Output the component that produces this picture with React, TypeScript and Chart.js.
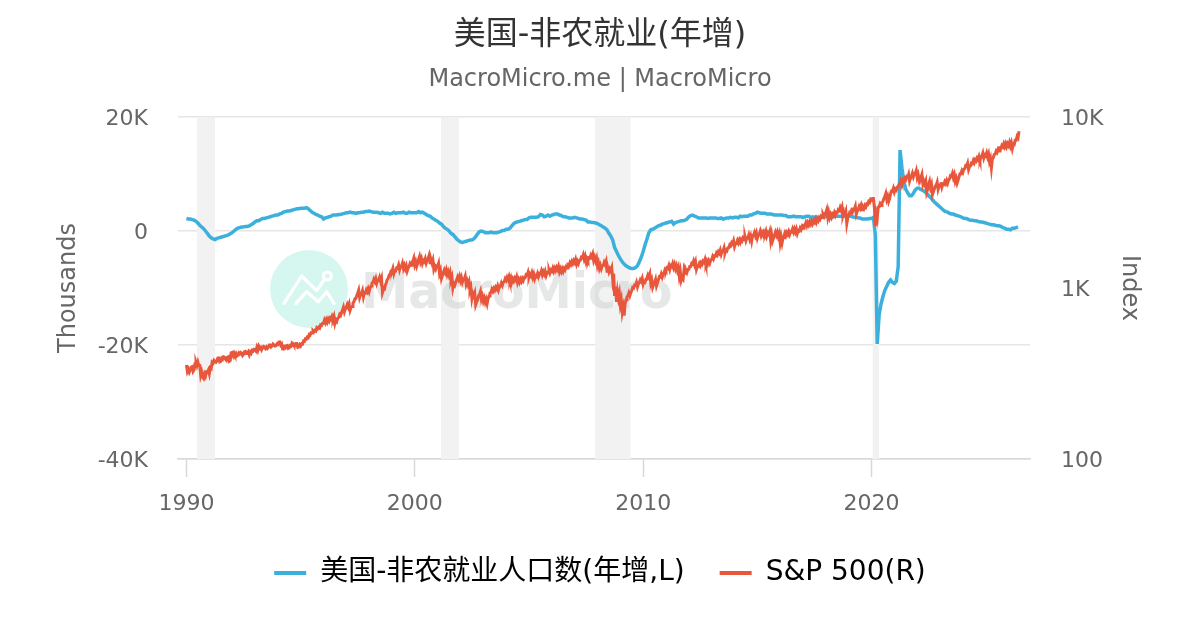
import React, { useEffect, useRef } from "react";
import { Chart, registerables } from "chart.js";

Chart.register(...registerables);

const FONT = '"DejaVu Sans", "Noto Sans CJK SC", sans-serif';
const startYear = 1990;

// US nonfarm payrolls, year-on-year change, thousands (shown in K), monthly from Jan 1990
const payrollsYoY: number[] = [
  2.2,2.1,2.1,2.0,1.9,1.7,1.4,1.0,0.7,0.4,0.0,-0.4,
  -0.9,-1.2,-1.4,-1.5,-1.3,-1.2,-1.1,-1.0,-0.9,-0.8,-0.7,-0.5,
  -0.3,0,0.3,0.5,0.6,0.7,0.7,0.8,0.8,0.9,1.1,1.3,
  1.6,1.8,1.8,2.0,2.2,2.2,2.3,2.4,2.5,2.6,2.7,2.8,
  2.8,3.0,3.1,3.3,3.4,3.5,3.5,3.6,3.7,3.8,3.9,3.9,
  4.0,4.0,4.0,4.1,3.9,3.6,3.3,3.1,2.9,2.8,2.6,2.5,
  2.1,2.3,2.4,2.5,2.6,2.8,2.8,2.8,2.9,2.9,3.0,3.1,
  3.2,3.2,3.3,3.2,3.2,3.1,3.2,3.2,3.3,3.3,3.4,3.4,
  3.5,3.4,3.3,3.3,3.3,3.2,3.1,3.3,3.1,3.1,3.1,3.0,
  3.1,3.3,3.1,3.2,3.2,3.2,3.3,3.1,3.1,3.3,3.2,3.2,
  3.2,3.2,3.4,3.2,3.3,3.1,2.9,2.7,2.6,2.3,2.1,1.9,
  1.7,1.4,1.2,0.8,0.5,0.3,0,-0.4,-0.6,-1.0,-1.4,-1.7,
  -1.9,-2.0,-1.9,-1.8,-1.7,-1.6,-1.6,-1.4,-1.0,-0.5,-0.1,0,
  -0.1,-0.3,-0.3,-0.3,-0.2,-0.3,-0.3,-0.3,-0.2,-0.1,0.1,0.1,
  0.3,0.3,0.5,0.9,1.3,1.5,1.6,1.7,1.8,1.9,2.0,2.0,
  2.3,2.4,2.4,2.4,2.4,2.5,2.9,2.8,2.5,2.6,2.8,2.6,
  2.8,2.9,3.0,3.0,2.8,2.7,2.5,2.5,2.4,2.3,2.3,2.3,
  2.4,2.3,2.2,2.1,2.1,2.0,1.9,1.6,1.6,1.5,1.5,1.4,
  1.3,1.1,0.9,0.7,0.5,0.2,-0.4,-0.9,-1.6,-2.9,-3.6,-4.3,
  -4.9,-5.4,-5.8,-6.1,-6.3,-6.5,-6.6,-6.6,-6.4,-6.1,-5.4,-4.6,
  -3.6,-2.4,-1.4,-0.3,0.2,0.3,0.5,0.7,0.9,1.0,1.2,1.3,
  1.4,1.5,1.6,1.7,1.2,1.5,1.6,1.7,1.8,1.8,1.9,2.1,
  2.5,2.7,2.8,2.6,2.5,2.3,2.3,2.3,2.3,2.3,2.2,2.3,
  2.3,2.3,2.3,2.2,2.2,2.3,2.1,2.2,2.3,2.3,2.4,2.3,
  2.4,2.4,2.3,2.6,2.5,2.6,2.6,2.6,2.8,2.8,3.0,3.1,
  3.3,3.2,3.1,3.1,3.1,3.0,3.0,3.0,2.9,2.8,2.8,2.8,
  2.8,2.8,2.7,2.7,2.5,2.5,2.5,2.6,2.5,2.5,2.5,2.5,
  2.4,2.5,2.6,2.6,2.4,2.5,2.4,2.5,2.3,2.4,2.4,2.5,
  2.5,2.6,2.6,2.5,2.5,2.6,2.6,2.6,2.6,2.6,2.6,2.6,
  2.7,2.6,2.5,2.4,2.4,2.3,2.3,2.1,2.1,2.1,2.1,2.2,
  2.2,2.4,-0.7,-19.8,-14.7,-12.8,-11.5,-10.4,-9.7,-9.0,-8.6,-9.0,
  -9.2,-8.8,-6.3,14.2,11.0,8.7,7.3,6.7,6.2,6.2,6.6,7.2,
  7.5,7.5,7.3,7.1,6.9,6.6,6.2,5.9,5.5,5.1,4.8,4.5,
  4.2,3.9,3.6,3.4,3.3,3.1,3.0,3.0,2.8,2.7,2.6,2.5,
  2.3,2.2,2.2,2.0,1.9,1.9,1.8,1.8,1.7,1.6,1.6,1.5,
  1.4,1.3,1.2,1.1,1.1,1.0,0.9,0.9,0.8,0.6,0.5,0.3,
  0.3,0.2,0.5,0.5,0.6,0.7,
];

// S&P 500 index, two readings per month (the swing of the daily line), from Jan 1990
const sp500: number[] = [
  355,325,335,322,332,345,347,325,332,360,367,352,369,352,352,308,322,301,296,314,305,323,322,331,
  315,342,338,368,364,378,378,368,375,390,390,370,372,388,383,396,394,384,378,393,396,373,376,418,
  420,405,417,405,414,400,404,417,411,420,416,403,410,424,426,413,414,423,407,422,415,432,428,438,
  436,428,450,433,456,443,449,435,447,455,452,443,452,443,449,464,464,452,458,470,470,458,460,471,
  468,482,483,464,471,440,439,454,448,459,461,443,446,460,457,477,473,462,461,473,473,450,453,466,
  458,472,470,489,487,504,502,516,512,534,530,547,545,563,555,565,560,586,579,590,583,608,604,622,
  623,649,627,653,632,658,641,667,656,682,657,683,622,652,638,664,673,701,691,719,742,772,725,755,
  770,802,774,806,742,772,780,817,831,865,867,903,935,973,881,917,928,966,888,940,936,974,950,990,
  950,1000,1028,1070,1079,1123,1089,1133,1068,1112,1110,1156,1098,1142,938,976,980,1037,1070,1120,1140,1186,1204,1254,
  1253,1305,1213,1263,1260,1312,1308,1362,1275,1327,1345,1399,1301,1355,1294,1346,1256,1308,1335,1389,1360,1416,1440,1498,
  1366,1422,1339,1393,1468,1528,1423,1481,1392,1448,1425,1483,1401,1459,1487,1547,1407,1465,1400,1458,1288,1340,1294,1346,
  1339,1393,1214,1264,1137,1183,1224,1274,1230,1280,1200,1248,1187,1235,1110,1156,1000,1061,1038,1080,1116,1162,1125,1171,
  1107,1153,1084,1128,1124,1170,1054,1098,1046,1088,969,1009,870,929,898,934,799,831,850,903,917,955,861,897,
  838,872,824,858,810,865,898,934,944,982,955,993,970,1010,988,1028,975,1015,1029,1071,1037,1079,1089,1133,
  1108,1154,1121,1167,1103,1149,1085,1129,1098,1142,1117,1163,1079,1123,1082,1126,1092,1136,1107,1153,1150,1196,1187,1235,
  1157,1205,1179,1227,1156,1204,1133,1179,1167,1215,1167,1215,1209,1259,1196,1244,1203,1253,1183,1231,1224,1274,1223,1273,
  1254,1306,1254,1306,1268,1320,1284,1336,1245,1295,1245,1295,1250,1302,1277,1329,1308,1362,1349,1405,1372,1428,1390,1446,
  1409,1467,1378,1434,1392,1448,1452,1512,1499,1561,1473,1533,1426,1484,1444,1502,1495,1557,1518,1580,1451,1511,1439,1497,
  1350,1406,1303,1357,1296,1348,1357,1413,1372,1428,1254,1306,1242,1292,1256,1308,1120,1215,900,1020,830,950,870,930,
  800,850,720,770,690,813,855,889,901,937,901,937,967,1007,1000,1040,1036,1078,1015,1057,1073,1117,1093,1137,
  1052,1094,1082,1126,1146,1192,1162,1210,1067,1111,1010,1050,1079,1123,1028,1070,1118,1164,1159,1207,1156,1204,1232,1282,
  1260,1312,1300,1354,1285,1352,1336,1390,1318,1372,1294,1346,1266,1318,1170,1250,1108,1154,1130,1278,1221,1271,1232,1282,
  1286,1338,1338,1392,1380,1436,1369,1425,1284,1336,1335,1389,1351,1407,1378,1434,1411,1469,1384,1440,1388,1444,1397,1455,
  1468,1528,1484,1544,1538,1600,1565,1629,1597,1663,1574,1638,1651,1719,1599,1665,1647,1715,1721,1791,1769,1841,1811,1885,
  1746,1818,1822,1896,1835,1909,1845,1921,1885,1961,1921,1999,1891,1969,1963,2043,1933,2011,1880,2030,2026,2108,2017,2099,
  1954,2034,2062,2146,2026,2108,2043,2127,2065,2149,2022,2104,2061,2145,1900,2050,1882,1958,2037,2121,2038,2122,2002,2084,
  1840,1980,1840,1971,2018,2100,2024,2106,2054,2138,2056,2140,2130,2216,2127,2213,2125,2211,2083,2169,2154,2242,2193,2283,
  2232,2324,2316,2410,2315,2409,2336,2432,2363,2459,2375,2471,2421,2519,2422,2520,2469,2569,2523,2627,2594,2700,2620,2726,
  2767,2879,2600,2767,2587,2693,2595,2701,2651,2759,2664,2772,2760,2872,2843,2959,2855,2971,2650,2765,2705,2815,2380,2556,
  2650,2758,2728,2840,2777,2891,2886,3004,2697,2807,2882,3000,2920,3040,2867,2985,2916,3036,2976,3098,3077,3203,3165,3295,
  3260,3340,3340,2950,2300,2700,2550,2970,2983,3105,3038,3162,3206,3336,3430,3570,3296,3430,3204,3334,3548,3694,3681,3831,
  3640,3788,3735,3887,3893,4051,4097,4265,4120,4288,4211,4383,4307,4483,4432,4612,4221,4393,4513,4697,4476,4658,4671,4861,
  4425,4605,4286,4460,4439,4621,4048,4214,4049,4215,3626,3774,4047,4213,3876,4034,3513,3657,3794,3948,3998,4162,3762,3916,
  3994,4158,3891,4049,4027,4191,4086,4252,4095,4263,4361,4539,4496,4680,4417,4597,4202,4374,4109,4277,4476,4658,4674,4864,
  4748,4942,4994,5198,5149,5359,4934,5136,5171,5383,5351,5569,5412,5632,5535,5761,5647,5877,5591,5819,5911,6153,5763,5999,
  5919,6161,5835,6073,5499,5723,5050,5680,5793,6029,6080,6328,6212,6466,6331,6589,6554,6822,6703,6977,6712,6986,6708,6982,
  6800,7100,6750,7050,6550,6950,6900,7300,7300,7700,7550,8250,
];

// Recession bands, decimal years
const recessionStarts = [1990.46, 2001.15, 2007.9, 2020.05];
const recessionEnds = [1991.25, 2001.93, 2009.45, 2020.33];

const xTicks = [1990, 2000, 2010, 2020];
const leftTicks = [-40, -20, 0, 20];
const rightTicks = [100, 1000, 10000];
const rightTickLabels: Record<number, string> = { 100: "100", 1000: "1K", 10000: "10K" };

const seriesNames = ["美国-非农就业人口数(年增,L)", "S&P 500(R)"];
const seriesColors = ["#3cb0dc", "#e8563c"];

const toPoints = (values: number[], perYear: number) =>
  values.map((y, i) => ({ x: startYear + i / perYear, y }));

const backdrop = {
  id: "backdrop",
  beforeDatasetsDraw(chart: any) {
    const { ctx, chartArea, scales } = chart;
    ctx.save();
    ctx.fillStyle = "#f2f2f2";
    recessionStarts.forEach((s, i) => {
      const x0 = scales.x.getPixelForValue(s);
      const x1 = scales.x.getPixelForValue(recessionEnds[i]);
      ctx.fillRect(x0, chartArea.top, x1 - x0, chartArea.bottom - chartArea.top);
    });
    // watermark
    ctx.fillStyle = "#d5f7f0";
    ctx.beginPath();
    ctx.arc(309, 289, 39, 0, Math.PI * 2);
    ctx.fill();
    ctx.strokeStyle = "#ffffff";
    ctx.lineWidth = 3.2;
    ctx.lineCap = "round";
    ctx.lineJoin = "round";
    ctx.beginPath();
    ctx.moveTo(284, 303.3);
    ctx.lineTo(301.7, 276);
    ctx.lineTo(316.7, 290.7);
    ctx.lineTo(324, 280);
    ctx.moveTo(296, 303.3);
    ctx.lineTo(306.7, 291.7);
    ctx.lineTo(318.3, 301.7);
    ctx.lineTo(326.7, 291.7);
    ctx.lineTo(334, 303.3);
    ctx.stroke();
    ctx.beginPath();
    ctx.arc(327.3, 276, 4, 0, Math.PI * 2);
    ctx.stroke();
    ctx.fillStyle = "rgba(200,204,204,0.45)";
    ctx.font = `bold 50px ${FONT}`;
    ctx.textAlign = "left";
    ctx.textBaseline = "alphabetic";
    ctx.translate(361, 308);
    ctx.scale(0.95, 1);
    ctx.fillText("MacroMicro", 0, 0);
    ctx.restore();
  },
};

export default function App() {
  const ref = useRef<HTMLCanvasElement>(null);
  useEffect(() => {
    document.body.style.margin = "0";
    const chart = new Chart(ref.current!, {
      type: "line",
      plugins: [backdrop],
      data: {
        datasets: [
          {
            label: seriesNames[0],
            data: toPoints(payrollsYoY, 12),
            yAxisID: "y",
            borderColor: seriesColors[0],
            backgroundColor: seriesColors[0],
            borderWidth: 3.5,
            pointRadius: 0,
            order: 2,
          },
          {
            label: seriesNames[1],
            data: toPoints(sp500, 24),
            yAxisID: "y1",
            borderColor: seriesColors[1],
            backgroundColor: seriesColors[1],
            borderWidth: 3,
            pointRadius: 0,
            order: 1,
          },
        ],
      },
      options: {
        animation: false,
        responsive: false,
        layout: { padding: { bottom: 33 } },
        plugins: {
          title: {
            display: true,
            text: "美国-非农就业(年增)",
            color: "#333333",
            font: { family: FONT, size: 32, weight: "normal", lineHeight: 1.2 },
            padding: { top: 16, bottom: 0 },
          },
          subtitle: {
            display: true,
            text: "MacroMicro.me | MacroMicro",
            color: "#666666",
            font: { family: FONT, size: 24, weight: "normal", lineHeight: 1.2 },
            padding: { top: 11.4, bottom: 22.4 },
          },
          legend: {
            position: "bottom",
            labels: {
              color: "#000000",
              font: { family: FONT, size: 28 },
              boxWidth: 32,
              boxHeight: 4,
              padding: 35,
              generateLabels: (c: any) =>
                (Chart.defaults as any).plugins.legend.labels
                  .generateLabels(c)
                  .map((item: any) => ({ ...item, lineWidth: 0 }))
                  .sort((a: any, b: any) => a.datasetIndex - b.datasetIndex),
            },
          },
          tooltip: { enabled: false },
        },
        scales: {
          x: {
            type: "linear",
            min: 1989.63,
            max: 2026.94,
            afterBuildTicks: (s: any) => { s.ticks = xTicks.map((value) => ({ value })); },
            afterFit: (s: any) => { s.height = 65; },
            border: { display: true, color: "#d8d8d8", width: 1.5 },
            grid: { drawOnChartArea: false, drawTicks: true, tickLength: 18, tickColor: "#d8d8d8", tickWidth: 1.5 },
            ticks: {
              autoSkip: false,
              maxRotation: 0,
              padding: 14,
              color: "#666666",
              font: { family: FONT, size: 22 },
              callback: (v: any) => String(v),
            },
          },
          y: {
            position: "left",
            min: -40,
            max: 20,
            afterBuildTicks: (s: any) => { s.ticks = leftTicks.map((value) => ({ value })); },
            afterFit: (s: any) => { s.width = 178; },
            border: { display: false },
            grid: { color: "#e6e6e6", lineWidth: 1.5, drawTicks: false },
            title: {
              display: true,
              text: "Thousands",
              color: "#666666",
              font: { family: FONT, size: 24, weight: "normal", lineHeight: 1.2 },
              padding: { top: 54, bottom: 0 },
            },
            ticks: {
              padding: 30,
              color: "#666666",
              font: { family: FONT, size: 22, lineHeight: "4px" },
              callback: (v: any) => ["", v === 0 ? "0" : `${v}K`],
            },
          },
          y1: {
            type: "logarithmic",
            position: "right",
            min: 100,
            max: 10000,
            afterBuildTicks: (s: any) => { s.ticks = rightTicks.map((value) => ({ value })); },
            afterFit: (s: any) => { s.width = 170; },
            border: { display: false },
            grid: { drawOnChartArea: false, drawTicks: false },
            title: {
              display: true,
              text: "Index",
              color: "#666666",
              font: { family: FONT, size: 24, weight: "normal", lineHeight: 1.2 },
              padding: { top: 56, bottom: 0 },
            },
            ticks: {
              padding: 31,
              color: "#666666",
              font: { family: FONT, size: 22, lineHeight: "4px" },
              callback: (v: any) => ["", rightTickLabels[v] ?? ""],
            },
          },
        },
      },
    } as any);
    return () => chart.destroy();
  }, []);
  return <canvas ref={ref} width={1200} height={630} style={{ display: "block", width: 1200, height: 630 }} />;
}
